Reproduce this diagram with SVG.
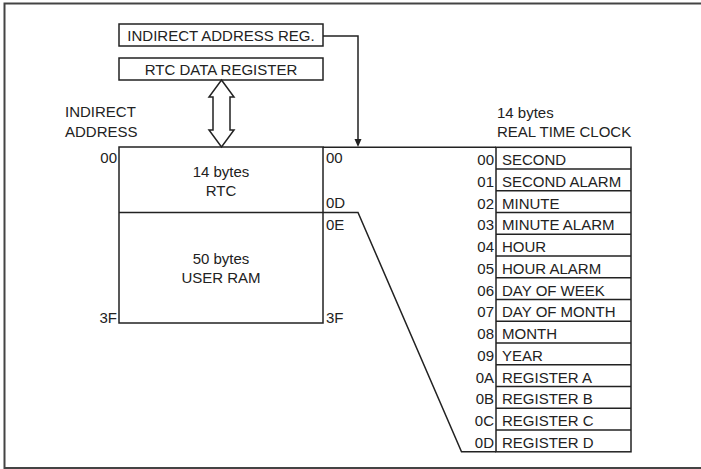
<svg xmlns="http://www.w3.org/2000/svg" width="701" height="469" viewBox="0 0 701 469">
<defs>
<style>
text{font-family:"Liberation Sans",Arial,sans-serif;font-size:15px;fill:#222}
.ln{fill:none;stroke:#222;stroke-width:1.5}
.bx{fill:#fff;stroke:#222;stroke-width:1.5}
.m{text-anchor:middle}
.e{text-anchor:end}
</style>
<marker id="ah" markerWidth="8" markerHeight="8" refX="4" refY="8" orient="auto-start-reverse" markerUnits="userSpaceOnUse" viewBox="0 0 8 8">
<path d="M1,0 L4,8 L7,0 Z" fill="#222"/>
</marker>
</defs>
<rect width="701" height="469" fill="#fff"/>
<path d="M702,3.5 H4.5 V468 H702" fill="none" stroke="#444" stroke-width="2"/>

<g id="indirect-address-reg">
<rect class="bx" x="119" y="24" width="204" height="22"/>
<text class="m" x="221" y="41">INDIRECT ADDRESS REG.</text>
</g>
<g id="rtc-data-register">
<rect class="bx" x="119" y="58" width="204" height="22"/>
<text class="m" x="221" y="75">RTC DATA REGISTER</text>
</g>
<g id="indirect-address-label">
<text x="65" y="117">INDIRECT</text>
<text x="65" y="137">ADDRESS</text>
</g>

<g id="memory-map">
<rect class="bx" x="119" y="147" width="204" height="176"/>
<line class="ln" x1="119" y1="212.5" x2="323" y2="212.5"/>
<text class="m" x="221" y="177">14 bytes</text>
<text class="m" x="221" y="196">RTC</text>
<text class="m" x="221" y="264">50 bytes</text>
<text class="m" x="221" y="283">USER RAM</text>
<text class="e" x="117" y="163">00</text>
<text class="e" x="117" y="323">3F</text>
<text x="326" y="163">00</text>
<text x="326" y="208">0D</text>
<text x="326" y="230">0E</text>
<text x="326" y="323">3F</text>
</g>

<g id="rtc-table">
<text x="497" y="118">14 bytes</text>
<text x="497" y="137">REAL TIME CLOCK</text>
<rect class="bx" x="496" y="147.3" width="135" height="304.5"/>
<g class="ln">
<line x1="496" y1="169.05" x2="631" y2="169.05"/>
<line x1="496" y1="190.8" x2="631" y2="190.8"/>
<line x1="496" y1="212.55" x2="631" y2="212.55"/>
<line x1="496" y1="234.3" x2="631" y2="234.3"/>
<line x1="496" y1="256.05" x2="631" y2="256.05"/>
<line x1="496" y1="277.8" x2="631" y2="277.8"/>
<line x1="496" y1="299.55" x2="631" y2="299.55"/>
<line x1="496" y1="321.3" x2="631" y2="321.3"/>
<line x1="496" y1="343.05" x2="631" y2="343.05"/>
<line x1="496" y1="364.8" x2="631" y2="364.8"/>
<line x1="496" y1="386.55" x2="631" y2="386.55"/>
<line x1="496" y1="408.3" x2="631" y2="408.3"/>
<line x1="496" y1="430.05" x2="631" y2="430.05"/>
</g>
<g>
<text class="e" x="494" y="165">00</text><text x="502" y="165">SECOND</text>
<text class="e" x="494" y="186.8">01</text><text x="502" y="186.8">SECOND ALARM</text>
<text class="e" x="494" y="208.5">02</text><text x="502" y="208.5">MINUTE</text>
<text class="e" x="494" y="230.3">03</text><text x="502" y="230.3">MINUTE ALARM</text>
<text class="e" x="494" y="252">04</text><text x="502" y="252">HOUR</text>
<text class="e" x="494" y="273.8">05</text><text x="502" y="273.8">HOUR ALARM</text>
<text class="e" x="494" y="295.5">06</text><text x="502" y="295.5">DAY OF WEEK</text>
<text class="e" x="494" y="317.3">07</text><text x="502" y="317.3">DAY OF MONTH</text>
<text class="e" x="494" y="339">08</text><text x="502" y="339">MONTH</text>
<text class="e" x="494" y="360.8">09</text><text x="502" y="360.8">YEAR</text>
<text class="e" x="494" y="382.5">0A</text><text x="502" y="382.5">REGISTER A</text>
<text class="e" x="494" y="404.3">0B</text><text x="502" y="404.3">REGISTER B</text>
<text class="e" x="494" y="426">0C</text><text x="502" y="426">REGISTER C</text>
<text class="e" x="494" y="447.8">0D</text><text x="502" y="447.8">REGISTER D</text>
</g>
</g>

<g id="connectors">
<path class="ln" d="M323,36 H358 V139"/>
<path d="M354.5,139 L358,147 L361.5,139 Z" fill="#222"/>
<line class="ln" x1="323" y1="147.3" x2="496" y2="147.3"/>
<path class="ln" d="M323,212.5 H358 L461.5,451.8 H496"/>
<path d="M221.5,80 L234,97 H230 V130 H234 L221.5,147 L209,130 H213 V97 H209 Z" fill="#fff" stroke="#222" stroke-width="1.5" stroke-linejoin="miter"/>
</g>
</svg>
